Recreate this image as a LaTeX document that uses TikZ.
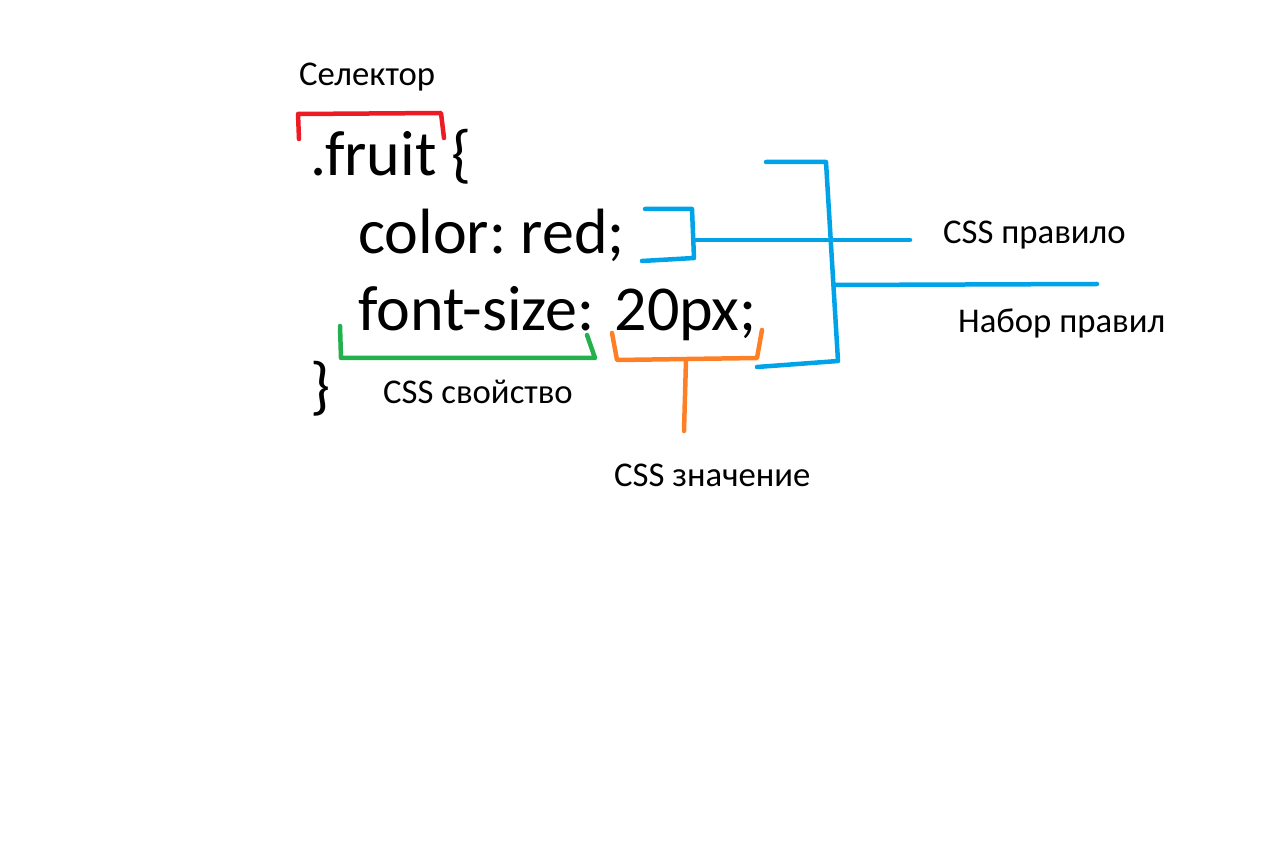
\documentclass[tikz,border=0pt]{standalone}
\usepackage{fontspec}
\setmainfont{Carlito}
\usepackage{tikz}
\usetikzlibrary{positioning}
\frenchspacing
\definecolor{selred}{HTML}{ED1C24}
\definecolor{propgreen}{HTML}{22B14C}
\definecolor{valorange}{HTML}{FF7F27}
\definecolor{ruleblue}{HTML}{00A2E8}
\tikzset{
  codetext/.style={anchor=base west,inner sep=0pt,font=\fontsize{64}{72}\selectfont},
  labeltext/.style={anchor=base west,inner sep=0pt,font=\fontsize{34.7}{40}\selectfont},
  pen/.style={line width=4.5pt,line cap=round,line join=round},
  selpen/.style={pen,draw=selred},
  proppen/.style={pen,draw=propgreen},
  valpen/.style={pen,draw=valorange},
  rulepen/.style={pen,draw=ruleblue}
}

\begin{document}
\begin{tikzpicture}[x=1pt,y=-1pt]
  \useasboundingbox (0,0) rectangle (1286,850);

  % code
  \node[codetext] (sel) at (310,176) {.fruit \{};
  \node[codetext] (decl1) at (358,254) {color: red;};
  \node[codetext] (decl2) at (358,331) {font-size:\hspace{20pt}20px;};
  \node[codetext] (close) at (310,407) {\}};

  % labels
  \node[labeltext] (lsel) at (299,86) {Селектор};
  \node[labeltext] (lrule) at (943,244) {CSS правило};
  \node[labeltext] (lset) at (958,333) {Набор правил};
  \node[labeltext] (lprop) at (383,404) {CSS свойство};
  \node[labeltext] (lval) at (614,486) {CSS значение};

  % selector bracket
  \draw[selpen] (299,139) -- (298,114) -- (441,113) -- (444,138);

  % property bracket
  \draw[proppen] (340,326) -- (341,358) -- (595,358) -- (587,335);

  % value bracket
  \draw[valpen] (612,333) -- (617,360) -- (757,358) -- (762,330);
  \draw[valpen] (686,360) -- (684,431);

  % rule bracket
  \draw[rulepen] (645,209) -- (692,209) -- (694,258) -- (642,261);
  \draw[rulepen] (694,240) -- (910,240);

  % rule set bracket
  \draw[rulepen] (766,162) -- (826,162) -- (838,361) -- (757,367);
  \draw[rulepen] (834,285) -- (1097,284);
\end{tikzpicture}
\end{document}
